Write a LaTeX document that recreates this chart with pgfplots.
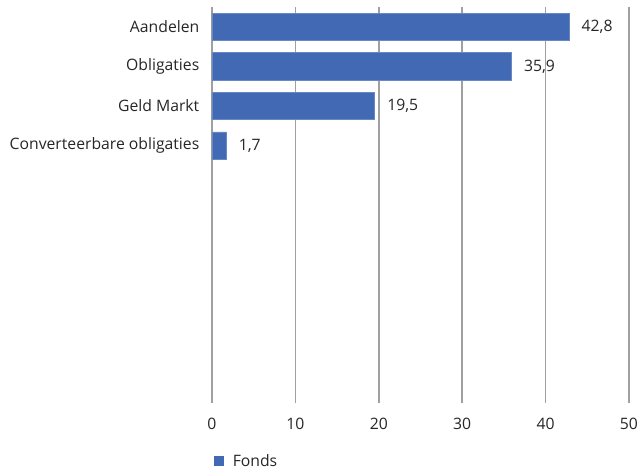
\documentclass[border=0pt]{standalone}
\usepackage{pgfplots}
\pgfplotsset{compat=1.18}
\usepackage{fontspec}
\setmainfont{Open Sans}
\definecolor{barblue}{RGB}{66,106,180}
\definecolor{gridgray}{RGB}{160,160,160}
\definecolor{txt}{RGB}{38,38,38}
\begin{document}
\begin{tikzpicture}
\useasboundingbox (-159pt,-51pt) rectangle (321pt,302.25pt);
\begin{axis}[
  at={(0,0)}, anchor=south west,
  scale only axis,
  width=312.75pt, height=297pt,
  xbar, bar width=20.5pt,
  xmin=0, xmax=50,
  ymin=-0.5, ymax=9.5,
  y dir=reverse,
  ytick={0,1,2,3},
  yticklabels={Aandelen,Obligaties,Geld Markt,Converteerbare obligaties},
  xtick={0,10,20,30,40,50},
  axis line style={draw=none},
  major tick length=0pt,
  xmajorgrids,
  grid style={gridgray, line width=1.1pt},
  tick label style={font=\fontsize{11.8}{13}\selectfont, text=txt},
  yticklabel style={xshift=-6pt},
  xticklabel style={yshift=-8pt},
  /pgf/number format/assume math mode=true,
  nodes near coords,
  nodes near coords style={font=\fontsize{11.8}{13}\selectfont, text=txt, anchor=west, xshift=6pt,
    /pgf/number format/.cd, fixed, fixed zerofill, precision=1, use comma},
  legend style={at={(0,0)}, anchor=north west, yshift=-38.5pt, xshift=1pt, draw=none, fill=none,
    font=\fontsize{11.8}{13}\selectfont, text=txt, inner sep=0pt,
    nodes={inner sep=0pt, text depth=0pt}},
  legend cell align=left,
  legend image code/.code={\fill[barblue] (0pt,-3.5pt) rectangle (7pt,3.5pt); \path (14pt,0pt);},
  clip=false,
]
\addplot[fill=barblue, draw=barblue!80!white] coordinates {(42.8,0) (35.9,1) (19.5,2) (1.7,3)};
\addlegendentry{Fonds}
\end{axis}
\end{tikzpicture}
\end{document}
